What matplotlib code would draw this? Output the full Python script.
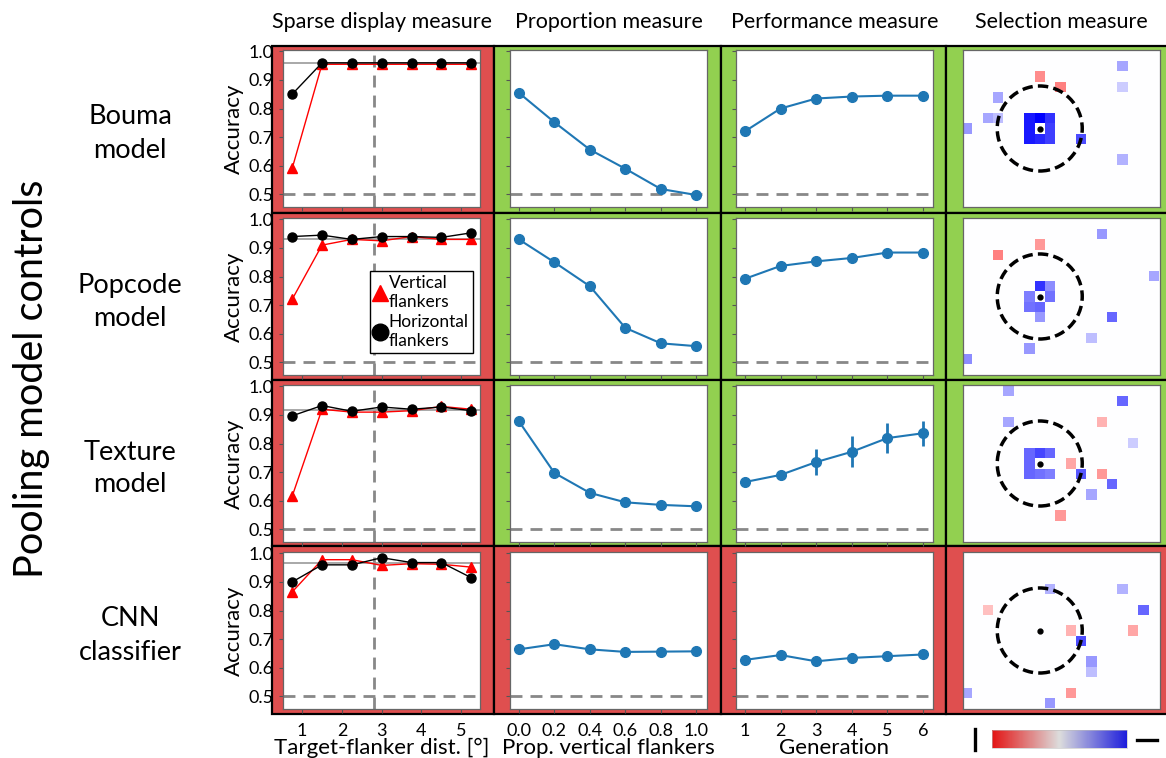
import numpy as np
import matplotlib
matplotlib.use('Agg')
import matplotlib.pyplot as plt
from matplotlib.patches import Rectangle, Circle
from matplotlib.colors import LinearSegmentedColormap, Normalize
from matplotlib.lines import Line2D
from matplotlib.cm import ScalarMappable

plt.rcParams['font.family'] = ['Lato', 'DejaVu Sans']

# labels
models = ['Bouma\nmodel', 'Popcode\nmodel', 'Texture\nmodel', 'CNN\nclassifier']
measures = ['Sparse display measure', 'Proportion measure', 'Performance measure', 'Selection measure']
xlabels = ['Target-flanker dist. [°]', 'Prop. vertical flankers', 'Generation']

# 1 = passed (green), 0 = failed (red)
passed = [[0, 1, 1, 1],
          [0, 1, 1, 1],
          [0, 1, 1, 1],
          [0, 0, 0, 0]]

# sparse display measure
dist = [0.75, 1.5, 2.25, 3.0, 3.75, 4.5, 5.25]
vert_acc = [[0.59, 0.955, 0.955, 0.955, 0.955, 0.955, 0.955],
            [0.72, 0.91, 0.93, 0.925, 0.94, 0.93, 0.93],
            [0.615, 0.92, 0.91, 0.91, 0.915, 0.93, 0.92],
            [0.865, 0.978, 0.978, 0.958, 0.964, 0.962, 0.952]]
horiz_acc = [[0.85, 0.96, 0.96, 0.96, 0.96, 0.96, 0.96],
             [0.94, 0.945, 0.93, 0.94, 0.94, 0.937, 0.953],
             [0.897, 0.933, 0.913, 0.928, 0.92, 0.928, 0.915],
             [0.90, 0.96, 0.96, 0.985, 0.968, 0.968, 0.915]]
ref_level = [0.96, 0.93, 0.917, 0.966]
bouma_dist = 2.8

# proportion measure
prop = [0.0, 0.2, 0.4, 0.6, 0.8, 1.0]
prop_acc = [[0.855, 0.752, 0.656, 0.589, 0.518, 0.497],
            [0.93, 0.85, 0.766, 0.62, 0.566, 0.556],
            [0.878, 0.697, 0.627, 0.594, 0.585, 0.58],
            [0.664, 0.682, 0.664, 0.655, 0.656, 0.657]]

# performance measure
gen = [1, 2, 3, 4, 5, 6]
gen_acc = [[0.72, 0.80, 0.835, 0.842, 0.845, 0.845],
           [0.792, 0.837, 0.853, 0.865, 0.884, 0.884],
           [0.665, 0.69, 0.735, 0.771, 0.819, 0.836],
           [0.627, 0.644, 0.622, 0.634, 0.64, 0.646]]
gen_err = [[0.004, 0.005, 0.006, 0.004, 0.004, 0.004],
           [0.005, 0.008, 0.014, 0.006, 0.006, 0.008],
           [0.015, 0.012, 0.047, 0.055, 0.053, 0.044],
           [0.005, 0.006, 0.016, 0.006, 0.006, 0.005]]

# selection measure: (column, row, value) relative to target, -1 red .. 1 blue
sel_bouma = [(-1, 1, 0.9), (0, 1, 1.0), (1, 1, 0.8), (-1, 0, 0.9), (1, 0, 0.75),
             (-1, -1, 0.9), (0, -1, 0.85), (1, -1, 0.75), (0, 5, -0.45), (2, 4, -0.5),
             (-4, 3, 0.35), (-5, 1, 0.35), (-4, 1, 0.25), (-7, 0, 0.4), (4, -1, 0.7),
             (8, 6, 0.35), (8, 4, 0.2), (8, -3, 0.3)]
sel_popcode = [(0, 1, 0.8), (1, 1, 0.45), (-1, 0, 0.5), (1, 0, 0.55), (-1, -1, 0.55),
               (0, -1, 0.6), (0, -2, 0.4), (0, 5, -0.4), (-4, 4, -0.5), (6, 6, 0.4),
               (11, 2, 0.35), (7, -2, 0.6), (5, -4, 0.25), (-1, -5, 0.4), (-7, -6, 0.45)]
sel_texture = [(-1, 1, 0.6), (0, 1, 0.72), (1, 1, 0.6), (-1, 0, 0.6), (-1, -1, 0.6),
               (0, -1, 0.55), (1, -1, 0.5), (-3, 7, 0.35), (-3, 4, 0.35), (8, 6, 0.6),
               (6, 4, -0.3), (9, 2, 0.2), (3, 0, -0.35), (4, -1, 0.65), (6, -1, -0.4),
               (7, -2, 0.6), (5, -3, 0.35), (2, -5, -0.4)]
sel_cnn = [(1, 4, 0.3), (8, 4, 0.3), (-5, 2, -0.25), (10, 2, 0.6), (3, 0, -0.3),
           (9, 0, -0.35), (4, -1, 0.7), (5, -3, 0.4), (5, -4, 0.25), (-7, -6, 0.35),
           (3, -6, -0.4), (1, -7, 0.4)]
selections = [sel_bouma, sel_popcode, sel_texture, sel_cnn]
pool_radius = 4.1

W, H = 1166, 758
RED = '#df4f4f'
GREEN = '#92d050'
BLUE = '#1f77b4'


def box(x0, y0, x1, y1):
    return [x0 / W, 1 - y1 / H, (x1 - x0) / W, (y1 - y0) / H]


fig = plt.figure(figsize=(W / 100, H / 100), dpi=100)

cell_x = [272, 494, 721, 946, 1172]
cell_y = [46, 213, 380, 546, 714]
ax_left = [283, 510, 736, 963]
ax_top = [50, 218, 385, 552]
aw, ah = 197, 157

# coloured pass/fail cells
for r in range(4):
    for c in range(4):
        x0, x1 = cell_x[c], cell_x[c + 1]
        y0, y1 = cell_y[r], cell_y[r + 1]
        fig.add_artist(Rectangle((x0 / W, 1 - y1 / H), (x1 - x0) / W, (y1 - y0) / H,
                                 transform=fig.transFigure,
                                 fc=GREEN if passed[r][c] else RED,
                                 ec='black', lw=1.6, zorder=-1))

sel_cmap = LinearSegmentedColormap.from_list('rwb', ['#ff0000', '#ffffff', '#0000ff'])
bar_cmap = LinearSegmentedColormap.from_list('rgb', ['#e31414', '#dcdcdc', '#1e1edc'])
norm = Normalize(-1, 1)

for r in range(4):
    for c in range(4):
        l, t = ax_left[c], ax_top[r]
        ax = fig.add_axes(box(l, t, l + aw, t + ah))
        for s in ax.spines.values():
            s.set_color('#666666')
            s.set_linewidth(0.9)
        if c < 3:
            ax.set_ylim(0.455, 1.005)
            ax.set_yticks([0.5, 0.6, 0.7, 0.8, 0.9, 1.0])
            ax.axhline(0.5, color='#888888', lw=2, ls=(0, (4.3, 2.9)), zorder=1)
            ax.tick_params(direction='out', length=3, width=0.8, color='#555555',
                           labelsize=13, pad=4)
            ax.tick_params(axis='x', pad=7)
            if c > 0:
                ax.set_yticklabels([])
            if r < 3:
                ax.set_xticklabels([])
        if c == 0:
            ax.set_xlim(0.52, 5.47)
            ax.set_xticks([1, 2, 3, 4, 5])
            ax.axvline(bouma_dist, color='#888888', lw=2, ls=(0, (4.3, 2.9)), zorder=1)
            ax.axhline(ref_level[r], color='#999999', lw=1.2, zorder=1)
            ax.plot(dist, vert_acc[r], color='red', marker='^', ms=6.5, lw=1, zorder=3)
            ax.plot(dist, horiz_acc[r], color='black', marker='o', ms=6.5, lw=1, zorder=4)
            ax.set_yticklabels(['%.1f' % v for v in ax.get_yticks()])
            ax.set_ylabel('Accuracy', fontsize=16, labelpad=3)
            if r == 1:
                h1 = Line2D([], [], color='red', marker='^', ls='none', ms=12)
                h2 = Line2D([], [], color='black', marker='o', ls='none', ms=12)
                leg = ax.legend([h1, h2], ['Vertical\nflankers', 'Horizontal\nflankers'],
                                loc='lower right', bbox_to_anchor=(0.965, 0.14),
                                fontsize=12.5, fancybox=False, framealpha=1,
                                handlelength=0.7, handletextpad=0.15, borderpad=0.25,
                                labelspacing=0.25, borderaxespad=0)
                leg.get_frame().set_edgecolor('black')
                leg.get_frame().set_linewidth(1)
        elif c == 1:
            ax.set_xlim(-0.05, 1.06)
            ax.set_xticks(prop)
            ax.plot(prop, prop_acc[r], color=BLUE, marker='o', ms=7, lw=1.5, zorder=3)
            if r == 3:
                ax.set_xticklabels(['%.1f' % v for v in prop])
        elif c == 2:
            ax.set_xlim(0.75, 6.28)
            ax.set_xticks(gen)
            ax.errorbar(gen, gen_acc[r], yerr=gen_err[r], color=BLUE, marker='o', ms=7,
                        lw=1.5, elinewidth=2, capsize=0, zorder=3)
        else:
            grid = np.zeros((17, 21))
            for i, j, v in selections[r]:
                grid[j + 8, i + 8] = v
            ax.imshow(grid, cmap=sel_cmap, norm=norm, origin='lower',
                      extent=(-8.5, 12.5, -8.5, 8.5), interpolation='nearest', aspect='auto')
            ax.add_patch(Circle((0, 0), pool_radius, fill=False, ec='black', lw=2.5,
                                ls=(0, (3, 1.5))))
            ax.plot(0, 0, 'o', color='black', ms=3.5)
            ax.set_xlim(-7.4, 11.6)
            ax.set_ylim(-7.57, 7.57)
            ax.set_xticks([])
            ax.set_yticks([])
        if r == 3 and c < 3:
            ax.set_xlabel(xlabels[c], fontsize=16, labelpad=-1)
        if r == 0:
            ax.set_title(measures[c], fontsize=15.5, pad=16)
        if c == 0:
            fig.text(130 / W, 1 - (ax_top[r] + ah / 2 + 5) / H, models[r], fontsize=19.5,
                     ha='center', va='center', linespacing=1.4)

fig.text(32 / W, 1 - 379 / H, 'Pooling model controls', fontsize=28.5, rotation=90,
         ha='center', va='center')

# colour bar for vertical / horizontal preference
cax = fig.add_axes(box(992, 730, 1127, 748))
cb = fig.colorbar(ScalarMappable(norm=norm, cmap=bar_cmap), cax=cax, orientation='horizontal')
cb.set_ticks([])
cb.outline.set_linewidth(0.4)
cb.outline.set_edgecolor('#bbbbbb')
fig.add_artist(Line2D([975 / W, 975 / W], [1 - 729 / H, 1 - 750 / H], color='black', lw=2.4,
                      transform=fig.transFigure))
fig.add_artist(Line2D([1137 / W, 1157 / W], [1 - 740 / H, 1 - 740 / H], color='black', lw=2.4,
                      transform=fig.transFigure))

fig.savefig('out.png', dpi=100)
